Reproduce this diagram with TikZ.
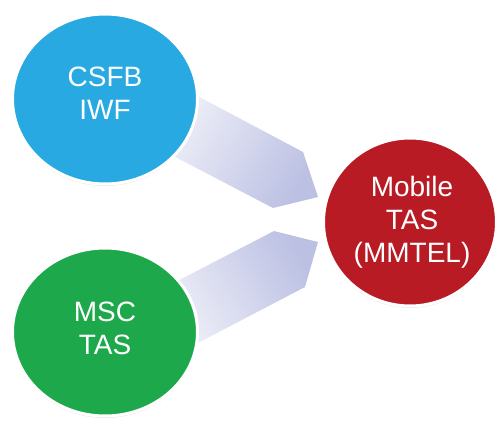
\documentclass[tikz,border=0pt]{standalone}
\usepackage{fontspec}
\setmainfont{Liberation Sans}
\usepackage{tikz}
\usetikzlibrary{shapes.geometric,shadows}

\definecolor{csfbblue}{RGB}{41,169,225}
\definecolor{mscgreen}{RGB}{30,168,76}
\definecolor{tasred}{RGB}{184,27,36}
\definecolor{bandlight}{RGB}{240,241,249}
\definecolor{banddark}{RGB}{188,192,227}

\begin{document}
\begin{tikzpicture}[x=1pt,y=-1pt,
	bubble/.style={ellipse, draw=white, line width=3pt, inner sep=0pt,
		drop shadow={opacity=0.18, shadow xshift=0pt, shadow yshift=-2pt}},
	bubbletext/.style={text=white, align=center, inner sep=0pt,
		font=\fontsize{28}{33}\selectfont},
	band/.style={left color=bandlight, right color=banddark}]

	% ---- frame

	\useasboundingbox (0,0) rectangle (498,423);

	% ---- arrow corners

	\coordinate (U1) at (173,83);
	\coordinate (U2) at (303,152);
	\coordinate (U3) at (318,197);
	\coordinate (U4) at (273,208);
	\coordinate (U5) at (160,149);

	\coordinate (L1) at (173,356);
	\coordinate (L2) at (305,287);
	\coordinate (L3) at (318,242);
	\coordinate (L4) at (274,231);
	\coordinate (L5) at (160,290);

	% ---- arrows

	\shade[band, shading angle=60] (U1) -- (U2) -- (U3) -- (U4) -- (U5) -- cycle;
	\shade[band, shading angle=120] (L1) -- (L2) -- (L3) -- (L4) -- (L5) -- cycle;

	% ---- circles

	\node[bubble, fill=csfbblue, minimum width=185pt, minimum height=170pt]
		(csfb) at (105,99) {};
	\node[bubble, fill=mscgreen, minimum width=185pt, minimum height=168pt]
		(msc) at (105,332) {};
	\node[bubble, fill=tasred, minimum width=173pt, minimum height=168pt]
		(mmtel) at (410,222) {};

	% ---- labels

	\node[bubbletext] (csfb-text) at ([yshift=6pt]csfb) {CSFB\\IWF};
	\node[bubbletext] (msc-text) at ([yshift=4pt]msc) {MSC\\TAS};
	\node[bubbletext] (mmtel-text) at ([xshift=2pt]mmtel) {Mobile\\TAS\\(MMTEL)};

\end{tikzpicture}
\end{document}
